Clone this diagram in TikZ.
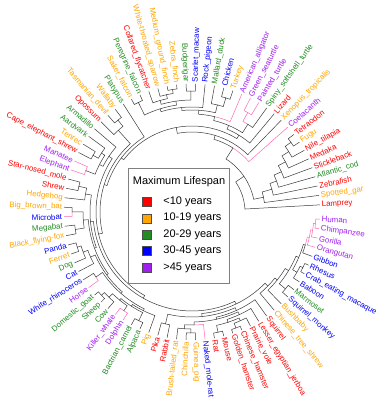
\documentclass[tikz,border=0pt]{standalone}
\usepackage{fontspec}
\setmainfont{Liberation Sans}
\usepackage{xcolor}
\usepackage{tikz}
\usetikzlibrary{positioning}

\definecolor{lsRed}{HTML}{FF0000}
\definecolor{lsOrange}{HTML}{FFA500}
\definecolor{lsGreen}{HTML}{228B22}
\definecolor{lsBlue}{HTML}{0000FF}
\definecolor{lsPurple}{HTML}{A020F0}
\definecolor{lsPink}{HTML}{FF69B4}
\definecolor{treeGray}{HTML}{3A3A3A}

\tikzset{
  branch/.style={line width=0.5pt, line cap=round},
  leaf/.style={font=\fontsize{7.9}{9.5}\selectfont, inner sep=0.8pt},
  legbox/.style={draw=gray, fill=white, line width=0.6pt, inner sep=0pt},
  swatch/.style={draw=black!70, line width=0.4pt, minimum size=9pt, inner sep=0pt},
  legtext/.style={font=\fontsize{11}{13}\selectfont, inner sep=0pt}
}

% tip: [branch colour]{key}{index}{text colour}{label}
\newcommand{\tip}[5][treeGray]{%
  \pgfmathsetmacro\tipang{3.2+4.26*(#3-1)}%
  \expandafter\xdef\csname a:#2\endcsname{\tipang}%
  \expandafter\xdef\csname r:#2\endcsname{128}%
  \expandafter\xdef\csname k:#2\endcsname{#1}%
  \pgfmathtruncatemacro\tipflip{(\tipang>90)&&(\tipang<270)}%
  \ifnum\tipflip=1
    \pgfmathsetmacro\tiprot{\tipang-180}%
    \node[leaf, text=#4, rotate=\tiprot, anchor=east] (#2) at (\tipang:129) {#5};%
  \else
    \node[leaf, text=#4, rotate=\tipang, anchor=west] (#2) at (\tipang:129) {#5};%
  \fi}

% clade: [stem colour]{key}{radius}{first child}{second child}
\newcommand{\clade}[5][treeGray]{%
  \edef\clA{\csname a:#4\endcsname}\edef\clB{\csname a:#5\endcsname}%
  \edef\clRa{\csname r:#4\endcsname}\edef\clRb{\csname r:#5\endcsname}%
  \edef\clKa{\csname k:#4\endcsname}\edef\clKb{\csname k:#5\endcsname}%
  \pgfmathsetmacro\clM{(\clA+\clB)/2}%
  \draw[branch, draw=\clKa] (\clA:\clRa) -- (\clA:#3) arc[start angle=\clA, end angle=\clM, radius=#3];%
  \draw[branch, draw=\clKb] (\clM:#3) arc[start angle=\clM, end angle=\clB, radius=#3] -- (\clB:\clRb);%
  \expandafter\xdef\csname a:#2\endcsname{\clM}%
  \expandafter\xdef\csname r:#2\endcsname{#3}%
  \expandafter\xdef\csname k:#2\endcsname{#1}}

\begin{document}
\begin{tikzpicture}[x=1pt, y=1pt]
    \useasboundingbox (-192,-190) rectangle (186,212);

    % Tips
    \tip{Lamprey}{1}{lsRed}{Lamprey}
    \tip{Gar}{2}{lsOrange}{Spotted\_gar}
    \tip{Zebrafish}{3}{lsRed}{Zebrafish}
    \tip{Cod}{4}{lsGreen}{Atlantic\_cod}
    \tip{Stickleback}{5}{lsRed}{Stickleback}
    \tip{Medaka}{6}{lsRed}{Medaka}
    \tip{Tilapia}{7}{lsRed}{Nile\_tilapia}
    \tip{Fugu}{8}{lsOrange}{Fugu}
    \tip{Tetraodon}{9}{lsRed}{Tetraodon}
    \tip[lsPink]{Coelacanth}{10}{lsPurple}{Coelacanth}
    \tip{Xenopus}{11}{lsOrange}{Xenopus\_tropicalis}
    \tip{Lizard}{12}{lsRed}{Lizard}
    \tip{Softshell}{13}{lsGreen}{Spiny\_softshell\_turtle}
    \tip[lsPink]{Painted}{14}{lsPurple}{Painted\_turtle}
    \tip[lsPink]{Seaturtle}{15}{lsPurple}{Green\_seaturtle}
    \tip[lsPink]{Alligator}{16}{lsPurple}{American\_alligator}
    \tip{Turkey}{17}{lsOrange}{Turkey}
    \tip{Chicken}{18}{lsBlue}{Chicken}
    \tip{Mallard}{19}{lsGreen}{Mallard\_duck}
    \tip{Pigeon}{20}{lsBlue}{Rock\_pigeon}
    \tip{Macaw}{21}{lsBlue}{Scarlet\_macaw}
    \tip{Budgie}{22}{lsGreen}{Budgerigar}
    \tip{ZFinch}{23}{lsOrange}{Zebra\_finch}
    \tip{GFinch}{24}{lsOrange}{Medium\_ground\_finch}
    \tip{Sparrow}{25}{lsOrange}{White-throated\_sparrow}
    \tip{Flycatcher}{26}{lsRed}{Collared\_flycatcher}
    \tip{Peregrine}{27}{lsGreen}{Peregrine\_falcon}
    \tip{Saker}{28}{lsOrange}{Saker\_falcon}
    \tip{Platypus}{29}{lsGreen}{Platypus}
    \tip{Wallaby}{30}{lsOrange}{Wallaby}
    \tip{Devil}{31}{lsOrange}{Tasmanian\_devil}
    \tip{Opossum}{32}{lsRed}{Opossum}
    \tip{Armadillo}{33}{lsGreen}{Armadillo}
    \tip{Aardvark}{34}{lsGreen}{Aardvark}
    \tip{Tenrec}{35}{lsOrange}{Tenrec}
    \tip{EShrew}{36}{lsRed}{Cape\_elephant\_shrew}
    \tip[lsPink]{Manatee}{37}{lsPurple}{Manatee}
    \tip[lsPink]{Elephant}{38}{lsPurple}{Elephant}
    \tip{Mole}{39}{lsRed}{Star-nosed\_mole}
    \tip{Shrew}{40}{lsRed}{Shrew}
    \tip{Hedgehog}{41}{lsOrange}{Hedgehog}
    \tip{BrownBat}{42}{lsOrange}{Big\_brown\_bat}
    \tip[lsPink]{Microbat}{43}{lsBlue}{Microbat}
    \tip{Megabat}{44}{lsGreen}{Megabat}
    \tip{FlyingFox}{45}{lsOrange}{Black\_flying-fox}
    \tip{Panda}{46}{lsBlue}{Panda}
    \tip{Ferret}{47}{lsOrange}{Ferret}
    \tip{Dog}{48}{lsGreen}{Dog}
    \tip{Cat}{49}{lsBlue}{Cat}
    \tip{Rhino}{50}{lsBlue}{White\_rhinoceros}
    \tip[lsPink]{Horse}{51}{lsPurple}{Horse}
    \tip{Goat}{52}{lsGreen}{Domestic\_goat}
    \tip{Sheep}{53}{lsGreen}{Sheep}
    \tip{Cow}{54}{lsGreen}{Cow}
    \tip[lsPink]{Orca}{55}{lsPurple}{Killer\_whale}
    \tip[lsPink]{Dolphin}{56}{lsPurple}{Dolphin}
    \tip{Camel}{57}{lsGreen}{Bactrian\_camel}
    \tip{Alpaca}{58}{lsGreen}{Alpaca}
    \tip{Pig}{59}{lsOrange}{Pig}
    \tip{Pika}{60}{lsRed}{Pika}
    \tip{Rabbit}{61}{lsRed}{Rabbit}
    \tip{Degu}{62}{lsOrange}{Brush-tailed\_rat}
    \tip{Chinchilla}{63}{lsOrange}{Chinchilla}
    \tip{GuineaPig}{64}{lsOrange}{Guinea\_pig}
    \tip[lsPink]{MoleRat}{65}{lsBlue}{Naked\_mole-rat}
    \tip{Rat}{66}{lsRed}{Rat}
    \tip{Mouse}{67}{lsRed}{Mouse}
    \tip{GHamster}{68}{lsRed}{Golden\_hamster}
    \tip{CHamster}{69}{lsRed}{Chinese\_hamster}
    \tip{Vole}{70}{lsRed}{Prairie\_vole}
    \tip{Jerboa}{71}{lsRed}{Lesser\_egyptian\_jerboa}
    \tip{Squirrel}{72}{lsRed}{Squirrel}
    \tip{TreeShrew}{73}{lsOrange}{Chinese\_tree\_shrew}
    \tip{Bushbaby}{74}{lsOrange}{Bushbaby}
    \tip{SqMonkey}{75}{lsBlue}{Squirrel\_monkey}
    \tip{Marmoset}{76}{lsGreen}{Marmoset}
    \tip{Baboon}{77}{lsBlue}{Baboon}
    \tip{Macaque}{78}{lsBlue}{Crab\_eating\_macaque}
    \tip{Rhesus}{79}{lsBlue}{Rhesus}
    \tip{Gibbon}{80}{lsBlue}{Gibbon}
    \tip[lsPink]{Orangutan}{81}{lsPurple}{Orangutan}
    \tip[lsPink]{Gorilla}{82}{lsPurple}{Gorilla}
    \tip[lsPink]{Chimp}{83}{lsPurple}{Chimpanzee}
    \tip[lsPink]{Human}{84}{lsPurple}{Human}

    % Fish
    \clade{FT}{121}{Fugu}{Tetraodon}
    \clade{PcC}{114}{Tilapia}{FT}
    \clade{PcB}{106}{Medaka}{PcC}
    \clade{Percomorph}{98}{Stickleback}{PcB}
    \clade{Euteleost}{90}{Cod}{Percomorph}
    \clade{Teleost}{83}{Zebrafish}{Euteleost}
    \clade{Actino}{73}{Gar}{Teleost}

    % Reptiles and birds
    \clade[lsPink]{Turtles2}{114}{Painted}{Seaturtle}
    \clade{Turtles}{104}{Softshell}{Turtles2}
    \clade{Galli}{119}{Turkey}{Chicken}
    \clade{Gallo}{110}{Galli}{Mallard}
    \clade{Parrots}{121}{Macaw}{Budgie}
    \clade{Finches}{124}{ZFinch}{GFinch}
    \clade{Passerida}{120}{Finches}{Sparrow}
    \clade{Passeri}{116}{Passerida}{Flycatcher}
    \clade{Psittaco}{112}{Parrots}{Passeri}
    \clade{Falcons}{122}{Peregrine}{Saker}
    \clade{Austra}{108}{Psittaco}{Falcons}
    \clade{Neoaves}{105}{Pigeon}{Austra}
    \clade{Aves}{102}{Gallo}{Neoaves}
    \clade{Archo}{98}{Alligator}{Aves}
    \clade{Archelo}{94}{Turtles}{Archo}
    \clade{Sauria}{90}{Lizard}{Archelo}

    % Mammals
    \clade{Dasyuro}{118}{Wallaby}{Devil}
    \clade{Marsup}{110}{Dasyuro}{Opossum}
    \clade{Afrosor}{114}{Tenrec}{EShrew}
    \clade{AfroIns}{108}{Aardvark}{Afrosor}
    \clade{Paenung}{114}{Manatee}{Elephant}
    \clade{Afro}{104}{AfroIns}{Paenung}
    \clade{Atlanto}{100}{Armadillo}{Afro}
    \clade{Soricid}{116}{Mole}{Shrew}
    \clade{Eulipo}{108}{Soricid}{Hedgehog}
    \clade{Vesper}{120}{BrownBat}{Microbat}
    \clade{Pteropod}{118}{Megabat}{FlyingFox}
    \clade{Chiro}{109}{Vesper}{Pteropod}
    \clade{Musteloid}{120}{Panda}{Ferret}
    \clade{Canif}{116}{Musteloid}{Dog}
    \clade{Carniv}{111}{Canif}{Cat}
    \clade{Periss}{116}{Rhino}{Horse}
    \clade{Caprini}{123}{Goat}{Sheep}
    \clade{Bovid}{119}{Caprini}{Cow}
    \clade{Cetacea}{120}{Orca}{Dolphin}
    \clade{Cetrum}{114}{Bovid}{Cetacea}
    \clade{Camelid}{121}{Camel}{Alpaca}
    \clade{CetCam}{112}{Cetrum}{Camelid}
    \clade{Artio}{110}{CetCam}{Pig}
    \clade{Ungul}{108}{Periss}{Artio}
    \clade{Fereu}{106}{Carniv}{Ungul}
    \clade{Scrot}{104}{Chiro}{Fereu}
    \clade{Laura}{102}{Eulipo}{Scrot}
    \clade{Lago}{115}{Pika}{Rabbit}
    \clade{Chinchi}{121}{Chinchilla}{GuineaPig}
    \clade{Caviom}{117}{Degu}{Chinchi}
    \clade{Hystri}{113}{Caviom}{MoleRat}
    \clade{Murid}{123}{Rat}{Mouse}
    \clade{Cricet}{124}{GHamster}{CHamster}
    \clade{Arvic}{119}{Cricet}{Vole}
    \clade{Muroid}{116}{Murid}{Arvic}
    \clade{Myomorph}{113}{Muroid}{Jerboa}
    \clade{MouseRel}{110}{Hystri}{Myomorph}
    \clade{Rodent}{108}{MouseRel}{Squirrel}
    \clade{Glires}{105}{Lago}{Rodent}
    \clade{Platyr}{121}{SqMonkey}{Marmoset}
    \clade{Macaca}{124}{Macaque}{Rhesus}
    \clade{Papion}{121}{Baboon}{Macaca}
    \clade[lsPink]{HomPan}{124}{Chimp}{Human}
    \clade[lsPink]{Homin}{122}{Gorilla}{HomPan}
    \clade[lsPink]{Hominid}{120}{Orangutan}{Homin}
    \clade{Hominoid}{118}{Gibbon}{Hominid}
    \clade{Catarr}{116}{Papion}{Hominoid}
    \clade{Simii}{113}{Platyr}{Catarr}
    \clade{Primates}{109}{Bushbaby}{Simii}
    \clade{Euarchonta}{106}{TreeShrew}{Primates}
    \clade{Euarch}{102}{Glires}{Euarchonta}
    \clade{Boreo}{99}{Laura}{Euarch}
    \clade{Eutheria}{96}{Atlanto}{Boreo}
    \clade{Theria}{92}{Marsup}{Eutheria}
    \clade{Mammalia}{89}{Platypus}{Theria}

    % Deep splits
    \clade{Amniota}{86}{Sauria}{Mammalia}
    \clade{Tetrapoda}{80}{Xenopus}{Amniota}
    \clade{Sarcopt}{76}{Coelacanth}{Tetrapoda}
    \clade{Gnatho}{63}{Actino}{Sarcopt}
    \clade{Root}{53}{Lamprey}{Gnatho}

    % Legend
    \node[legbox, minimum width=101pt, minimum height=115pt] (legend) at (-13.5,-13.5) {};
    \node[legtext] (legtitle) at (-13,30) {Maximum Lifespan};
    \foreach \col/\txt [count=\k] in {lsRed/{<10 years}, lsOrange/{10-19 years}, lsGreen/{20-29 years}, lsBlue/{30-45 years}, lsPurple/{>45 years}} {
        \node[swatch, fill=\col] (sw\k) at (-45.5,{26.5-16.4*\k}) {};
        \node[legtext, anchor=west, right=12pt of sw\k] (lt\k) {\txt};
    }
\end{tikzpicture}
\end{document}
